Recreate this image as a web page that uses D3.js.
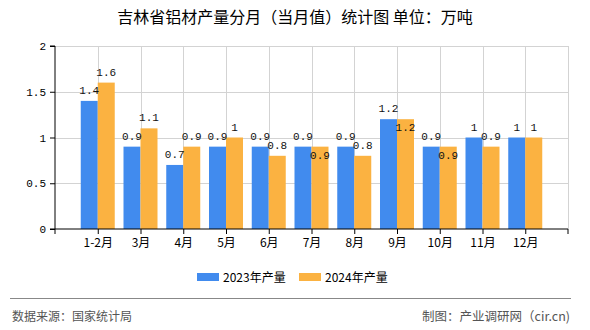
<!DOCTYPE html>
<html><head><meta charset="utf-8">
<script src="https://cdn.jsdelivr.net/npm/d3@7"></script>
<style>body{margin:0;background:#fff}svg{display:block}</style>
</head><body>
<svg id="c" width="590" height="330"></svg>
<script>
const categories = ["1-2月","3月","4月","5月","6月","7月","8月","9月","10月","11月","12月"];
const values2023 = [1.4,0.9,0.7,0.9,0.9,0.9,0.9,1.2,0.9,1,1];
const values2024 = [1.6,1.1,0.9,1,0.8,0.9,0.8,1.2,0.9,0.9,1];
const seriesNames = ["2023年产量","2024年产量"];
const yTicks = [0,0.5,1,1.5,2];
const titleText = "吉林省铝材产量分月（当月值）统计图 单位：万吨";
const sourceText = "数据来源：国家统计局";
const creditText = "制图：产业调研网（cir.cn)";

const colors = ["#418BEE","#FBB241"];
const svg = d3.select("#c");
const L = 55, R = 568, T = 46, B = 229;
const cjk = "'Noto Sans CJK SC','Noto Sans',sans-serif";
const mono = "'Liberation Mono','DejaVu Sans Mono',monospace";

// x: 12 slots, category ticks at slot boundaries 1..11
const x = d3.scalePoint().domain(["_s"].concat(categories).concat(["_e"])).range([L, R]);
const y = d3.scaleLinear().domain([0,2]).range([B, T]);
const barW = 17;

// grid
svg.append("g").selectAll("line").data(yTicks.filter(d=>d>0)).join("line")
  .attr("x1",L).attr("x2",R).attr("y1",d=>Math.round(y(d))+0.5).attr("y2",d=>Math.round(y(d))+0.5)
  .attr("stroke","#d3d3d3").attr("stroke-width",1);
svg.append("g").selectAll("line").data(categories.concat(["_e"])).join("line")
  .attr("x1",d=>Math.round(x(d))+0.5).attr("x2",d=>Math.round(x(d))+0.5).attr("y1",T).attr("y2",B)
  .attr("stroke","#d3d3d3").attr("stroke-width",1);

// bars
const series = [values2023, values2024];
series.forEach((vals, si) => {
  svg.append("g").selectAll("rect").data(vals).join("rect")
    .attr("x",(d,i)=> si===0 ? x(categories[i]) - barW : x(categories[i]))
    .attr("width",barW)
    .attr("y",d=>y(d)).attr("height",d=>B - y(d))
    .attr("fill",colors[si]);
});

// value labels with simple collision avoidance
const fmt = d => String(d);
const charW = 6.4;
const lblG = svg.append("g").attr("font-family",mono).attr("font-size","11px").attr("fill","#111").attr("text-anchor","middle");
categories.forEach((c,i)=>{
  const a = values2023[i], b = values2024[i];
  const cxA = x(c) - barW/2, cxB = x(c) + barW/2;
  const yA = y(a) - 7, wA = fmt(a).length*charW;
  let yB = y(b) - 7; const wB = fmt(b).length*charW;
  const overlapX = (cxA + wA/2) > (cxB - wB/2);
  const overlapY = Math.abs(yA - yB) < 8;
  if (overlapX && overlapY) yB = y(b) + 12;
  lblG.append("text").attr("x",cxA).attr("y",yA).text(fmt(a));
  lblG.append("text").attr("x",cxB).attr("y",yB).text(fmt(b));
});

// axes
const yAxis = d3.axisLeft(y).tickValues(yTicks).tickSize(5).tickFormat(d=>String(d));
const gy = svg.append("g").attr("transform",`translate(${L},0)`).call(yAxis);
gy.select(".domain").attr("stroke","#000").attr("d",`M-5,${T}H0V${B}H-5`);
gy.selectAll("text").attr("font-family",mono).attr("font-size","11px").attr("fill","#000").attr("dx","-1");

const xAxis = d3.axisBottom(x).tickValues(categories).tickSize(5).tickSizeOuter(0);
const gx = svg.append("g").attr("transform",`translate(0,${B})`).call(xAxis);
gx.select(".domain").attr("stroke","#000").attr("d",`M${L},5V0H${R}V5`);
gx.selectAll("text").attr("font-family",cjk).attr("font-size","12px").attr("fill","#000").attr("dy","0.85em");

// title
svg.append("text").attr("x",295).attr("y",23).attr("text-anchor","middle")
  .attr("font-family",cjk).attr("font-size","16px").attr("fill","#000").text(titleText);

// legend
const lg = svg.append("g").attr("font-family",cjk).attr("font-size","12px");
[[197,0],[299,1]].forEach(([lx,si])=>{
  lg.append("rect").attr("x",lx).attr("y",273).attr("width",22).attr("height",8).attr("fill",colors[si]);
  lg.append("text").attr("x",lx+26).attr("y",281.5).attr("fill","#000").text(seriesNames[si]);
});

// footer
svg.append("line").attr("x1",10).attr("x2",571).attr("y1",298.5).attr("y2",298.5).attr("stroke","#888").attr("stroke-width",1);
svg.append("text").attr("x",12).attr("y",321).attr("font-family",cjk).attr("font-size","12px").attr("fill","#555").text(sourceText);
svg.append("text").attr("x",570).attr("y",321).attr("text-anchor","end").attr("font-family",cjk).attr("font-size","12.5px").attr("fill","#555").text(creditText);
</script>
</body></html>
